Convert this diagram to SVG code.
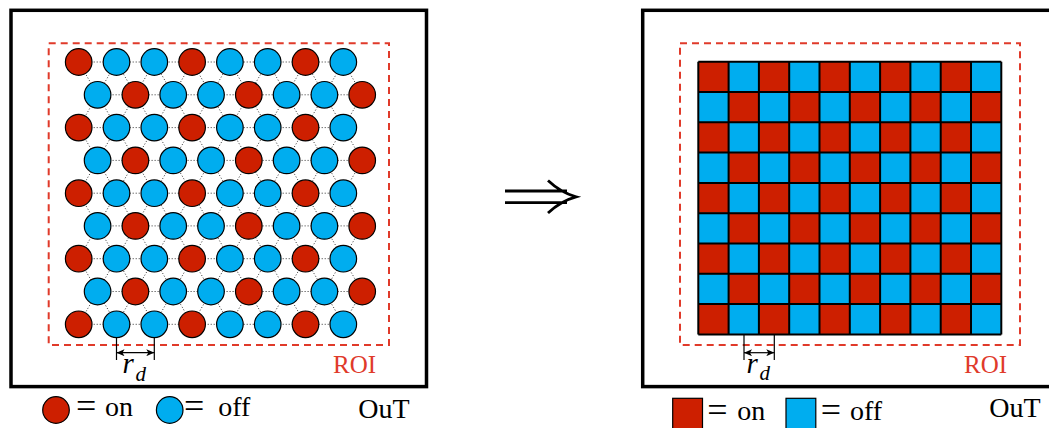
<svg xmlns="http://www.w3.org/2000/svg" width="1049" height="428" viewBox="0 0 1049 428">
<style>
.frame{fill:none;stroke:#000;stroke-width:3.5}
.roi{fill:none;stroke:#e03a2a;stroke-width:2;stroke-dasharray:7 5}
.on{fill:#cd1f00;stroke:#000;stroke-width:1.2}
.off{fill:#00adef;stroke:#000;stroke-width:1.2}
.lat{fill:none;stroke:#333;stroke-width:1;stroke-dasharray:1 2}
.dim{fill:none;stroke:#000;stroke-width:1.2}
.txt{font-family:"Liberation Serif","Times New Roman",serif;fill:#000}
.roit{font-family:"Liberation Serif","Times New Roman",serif;fill:#e03a2a;font-size:25px}
.big{font-size:28px}
.eq{font-size:36px}
.it{font-style:italic}
</style>
<defs>
<marker id="tip" markerUnits="userSpaceOnUse" markerWidth="8" markerHeight="7" refX="8" refY="3.5" orient="auto-start-reverse">
<path d="M0,0 L8,3.5 L0,7 L2,3.5 Z" fill="#000"/>
</marker>
<pattern id="checker" patternUnits="userSpaceOnUse" x="698.3" y="61.7" width="60.6" height="60.6">
<rect x="0" y="0" width="60.6" height="60.6" fill="#00adef"/>
<rect x="0" y="0" width="30.3" height="30.3" fill="#cd1f00"/>
<rect x="30.3" y="30.3" width="30.3" height="30.3" fill="#cd1f00"/>
</pattern>
</defs>

<g id="left-panel">
<rect class="frame" x="11" y="10.3" width="415.5" height="376.3"/>
<rect class="roi" x="48.7" y="43.3" width="340.3" height="301.7"/>
<g id="lattice">
<path class="lat" d="M78.7,62H343.3M97.6,94.8H362.2M78.7,127.6H343.3M97.6,160.4H362.2M78.7,193.2H343.3M97.6,225.9H362.2M78.7,258.7H343.3M97.6,291.5H362.2M78.7,324.3H343.3
M78.7,62L97.6,94.8L116.5,62L135.4,94.8L154.3,62L173.2,94.8L192.1,62L211,94.8L229.9,62L248.8,94.8L267.7,62L286.6,94.8L305.5,62L324.4,94.8L343.3,62L362.2,94.8
M78.7,127.6L97.6,94.8L116.5,127.6L135.4,94.8L154.3,127.6L173.2,94.8L192.1,127.6L211,94.8L229.9,127.6L248.8,94.8L267.7,127.6L286.6,94.8L305.5,127.6L324.4,94.8L343.3,127.6L362.2,94.8
M78.7,127.6L97.6,160.4L116.5,127.6L135.4,160.4L154.3,127.6L173.2,160.4L192.1,127.6L211,160.4L229.9,127.6L248.8,160.4L267.7,127.6L286.6,160.4L305.5,127.6L324.4,160.4L343.3,127.6L362.2,160.4
M78.7,193.2L97.6,160.4L116.5,193.2L135.4,160.4L154.3,193.2L173.2,160.4L192.1,193.2L211,160.4L229.9,193.2L248.8,160.4L267.7,193.2L286.6,160.4L305.5,193.2L324.4,160.4L343.3,193.2L362.2,160.4
M78.7,193.2L97.6,225.9L116.5,193.2L135.4,225.9L154.3,193.2L173.2,225.9L192.1,193.2L211,225.9L229.9,193.2L248.8,225.9L267.7,193.2L286.6,225.9L305.5,193.2L324.4,225.9L343.3,193.2L362.2,225.9
M78.7,258.7L97.6,225.9L116.5,258.7L135.4,225.9L154.3,258.7L173.2,225.9L192.1,258.7L211,225.9L229.9,258.7L248.8,225.9L267.7,258.7L286.6,225.9L305.5,258.7L324.4,225.9L343.3,258.7L362.2,225.9
M78.7,258.7L97.6,291.5L116.5,258.7L135.4,291.5L154.3,258.7L173.2,291.5L192.1,258.7L211,291.5L229.9,258.7L248.8,291.5L267.7,258.7L286.6,291.5L305.5,258.7L324.4,291.5L343.3,258.7L362.2,291.5
M78.7,324.3L97.6,291.5L116.5,324.3L135.4,291.5L154.3,324.3L173.2,291.5L192.1,324.3L211,291.5L229.9,324.3L248.8,291.5L267.7,324.3L286.6,291.5L305.5,324.3L324.4,291.5L343.3,324.3L362.2,291.5"/>
</g>
<g id="dots">
<circle class="on" cx="78.7" cy="62" r="13.3"/><circle class="off" cx="116.5" cy="62" r="13.3"/><circle class="off" cx="154.3" cy="62" r="13.3"/><circle class="on" cx="192.1" cy="62" r="13.3"/><circle class="off" cx="229.9" cy="62" r="13.3"/><circle class="off" cx="267.7" cy="62" r="13.3"/><circle class="on" cx="305.5" cy="62" r="13.3"/><circle class="off" cx="343.3" cy="62" r="13.3"/>
<circle class="off" cx="97.6" cy="94.8" r="13.3"/><circle class="on" cx="135.4" cy="94.8" r="13.3"/><circle class="off" cx="173.2" cy="94.8" r="13.3"/><circle class="off" cx="211" cy="94.8" r="13.3"/><circle class="on" cx="248.8" cy="94.8" r="13.3"/><circle class="off" cx="286.6" cy="94.8" r="13.3"/><circle class="off" cx="324.4" cy="94.8" r="13.3"/><circle class="on" cx="362.2" cy="94.8" r="13.3"/>
<circle class="on" cx="78.7" cy="127.6" r="13.3"/><circle class="off" cx="116.5" cy="127.6" r="13.3"/><circle class="off" cx="154.3" cy="127.6" r="13.3"/><circle class="on" cx="192.1" cy="127.6" r="13.3"/><circle class="off" cx="229.9" cy="127.6" r="13.3"/><circle class="off" cx="267.7" cy="127.6" r="13.3"/><circle class="on" cx="305.5" cy="127.6" r="13.3"/><circle class="off" cx="343.3" cy="127.6" r="13.3"/>
<circle class="off" cx="97.6" cy="160.4" r="13.3"/><circle class="on" cx="135.4" cy="160.4" r="13.3"/><circle class="off" cx="173.2" cy="160.4" r="13.3"/><circle class="off" cx="211" cy="160.4" r="13.3"/><circle class="on" cx="248.8" cy="160.4" r="13.3"/><circle class="off" cx="286.6" cy="160.4" r="13.3"/><circle class="off" cx="324.4" cy="160.4" r="13.3"/><circle class="on" cx="362.2" cy="160.4" r="13.3"/>
<circle class="on" cx="78.7" cy="193.2" r="13.3"/><circle class="off" cx="116.5" cy="193.2" r="13.3"/><circle class="off" cx="154.3" cy="193.2" r="13.3"/><circle class="on" cx="192.1" cy="193.2" r="13.3"/><circle class="off" cx="229.9" cy="193.2" r="13.3"/><circle class="off" cx="267.7" cy="193.2" r="13.3"/><circle class="on" cx="305.5" cy="193.2" r="13.3"/><circle class="off" cx="343.3" cy="193.2" r="13.3"/>
<circle class="off" cx="97.6" cy="225.9" r="13.3"/><circle class="on" cx="135.4" cy="225.9" r="13.3"/><circle class="off" cx="173.2" cy="225.9" r="13.3"/><circle class="off" cx="211" cy="225.9" r="13.3"/><circle class="on" cx="248.8" cy="225.9" r="13.3"/><circle class="off" cx="286.6" cy="225.9" r="13.3"/><circle class="off" cx="324.4" cy="225.9" r="13.3"/><circle class="on" cx="362.2" cy="225.9" r="13.3"/>
<circle class="on" cx="78.7" cy="258.7" r="13.3"/><circle class="off" cx="116.5" cy="258.7" r="13.3"/><circle class="off" cx="154.3" cy="258.7" r="13.3"/><circle class="on" cx="192.1" cy="258.7" r="13.3"/><circle class="off" cx="229.9" cy="258.7" r="13.3"/><circle class="off" cx="267.7" cy="258.7" r="13.3"/><circle class="on" cx="305.5" cy="258.7" r="13.3"/><circle class="off" cx="343.3" cy="258.7" r="13.3"/>
<circle class="off" cx="97.6" cy="291.5" r="13.3"/><circle class="on" cx="135.4" cy="291.5" r="13.3"/><circle class="off" cx="173.2" cy="291.5" r="13.3"/><circle class="off" cx="211" cy="291.5" r="13.3"/><circle class="on" cx="248.8" cy="291.5" r="13.3"/><circle class="off" cx="286.6" cy="291.5" r="13.3"/><circle class="off" cx="324.4" cy="291.5" r="13.3"/><circle class="on" cx="362.2" cy="291.5" r="13.3"/>
<circle class="on" cx="78.7" cy="324.3" r="13.3"/><circle class="off" cx="116.5" cy="324.3" r="13.3"/><circle class="off" cx="154.3" cy="324.3" r="13.3"/><circle class="on" cx="192.1" cy="324.3" r="13.3"/><circle class="off" cx="229.9" cy="324.3" r="13.3"/><circle class="off" cx="267.7" cy="324.3" r="13.3"/><circle class="on" cx="305.5" cy="324.3" r="13.3"/><circle class="off" cx="343.3" cy="324.3" r="13.3"/>
</g>
<g id="left-rd">
<path class="dim" d="M116.5,337.6V360M154.3,337.6V360"/>
<line class="dim" x1="116.5" y1="352.7" x2="154.3" y2="352.7" marker-start="url(#tip)" marker-end="url(#tip)"/>
<text class="txt it" x="122.5" y="373.3" font-size="29">r<tspan font-size="21" x="135.5" y="381">d</tspan></text>
</g>
<text class="roit" x="333" y="372.7">ROI</text>
</g>

<g id="left-legend">
<circle class="on" cx="56" cy="410" r="13.3"/>
<text class="txt big" y="416"><tspan class="eq" x="76" y="418">= </tspan><tspan x="105" y="416">on</tspan></text>
<circle class="off" cx="169.7" cy="410" r="13.3"/>
<text class="txt big" y="416"><tspan class="eq" x="184" y="418">= </tspan><tspan x="218.3" y="416">off</tspan></text>
<text class="txt big" x="358.3" y="417.5">OuT</text>
</g>

<g id="arrow">
<path d="M505,191H567M505,202.7H567M548,180.5C557,189 566,194 576,196.8C566,199.5 557,204.5 548,213" fill="none" stroke="#000" stroke-width="2.8"/>
</g>

<g id="right-panel">
<rect class="frame" x="642.7" y="10.3" width="420" height="376.3"/>
<rect class="roi" x="680" y="43.3" width="340" height="301.7"/>
<g id="grid">
<rect x="698.3" y="61.7" width="303" height="272.7" fill="url(#checker)"/>
<path d="M698.3,61.7V334.4M728.6,61.7V334.4M758.9,61.7V334.4M789.2,61.7V334.4M819.5,61.7V334.4M849.8,61.7V334.4M880.1,61.7V334.4M910.4,61.7V334.4M940.7,61.7V334.4M971,61.7V334.4M1001.3,61.7V334.4M698.3,61.7H1001.3M698.3,92H1001.3M698.3,122.3H1001.3M698.3,152.6H1001.3M698.3,182.9H1001.3M698.3,213.2H1001.3M698.3,243.5H1001.3M698.3,273.8H1001.3M698.3,304.1H1001.3M698.3,334.4H1001.3" fill="none" stroke="#000" stroke-width="2"/>
</g>
<g id="right-rd">
<path class="dim" d="M744,334.4V360M774.3,334.4V360"/>
<line class="dim" x1="744" y1="352.7" x2="774.3" y2="352.7" marker-start="url(#tip)" marker-end="url(#tip)"/>
<text class="txt it" x="746.5" y="373.3" font-size="29">r<tspan font-size="21" x="759.5" y="380">d</tspan></text>
</g>
<text class="roit" x="964" y="372.7">ROI</text>
</g>

<g id="right-legend">
<rect class="on" x="672.7" y="398.3" width="29.8" height="36" stroke-width="2"/>
<text class="txt big" y="420"><tspan class="eq" x="707.3" y="422">= </tspan><tspan x="737.3" y="420">on</tspan></text>
<rect class="off" x="786" y="398.3" width="29.8" height="36" stroke-width="2"/>
<text class="txt big" y="420"><tspan class="eq" x="820.7" y="422">= </tspan><tspan x="850" y="420">off</tspan></text>
<text class="txt big" x="989.3" y="417">OuT</text>
</g>
</svg>
